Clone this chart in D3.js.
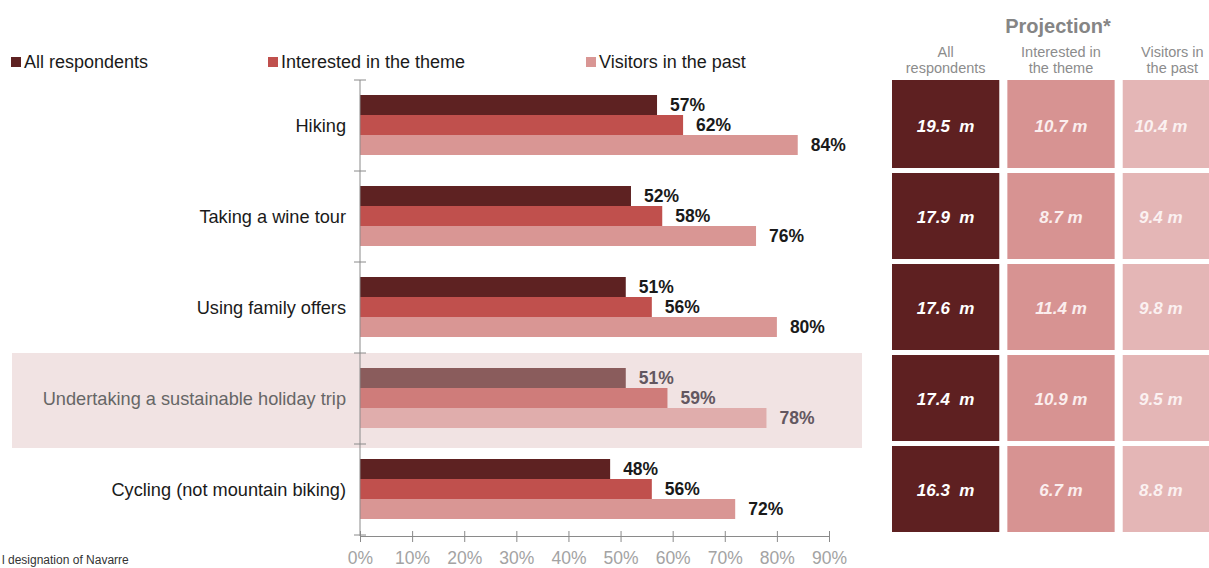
<!DOCTYPE html>
<html>
<head>
<meta charset="utf-8">
<script src="https://cdn.jsdelivr.net/npm/d3@7"></script>
<style>
  html, body { margin: 0; padding: 0; background: #ffffff; }
  svg { display: block; font-family: "Liberation Sans", Arial, sans-serif; }
</style>
</head>
<body>
<svg id="chart" width="1209" height="568"></svg>
<script>
// Activities and the share of each group interested in them
const categories = [
  "Hiking",
  "Taking a wine tour",
  "Using family offers",
  "Undertaking a sustainable holiday trip",
  "Cycling (not mountain biking)"
];
const series = ["All respondents", "Interested in the theme", "Visitors in the past"];
const allRespondents = [57, 52, 51, 51, 48];
const interestedInTheme = [62, 58, 56, 59, 56];
const visitorsInPast = [84, 76, 80, 78, 72];

// Projected number of people (millions) per activity and group
const projAll = [19.5, 17.9, 17.6, 17.4, 16.3];
const projInterested = [10.7, 8.7, 11.4, 10.9, 6.7];
const projVisitors = [10.4, 9.4, 9.8, 9.5, 8.8];

const tickValues = [0, 10, 20, 30, 40, 50, 60, 70, 80, 90];
const highlighted = "Undertaking a sustainable holiday trip";

const barColors = ["#5e2222", "#c0504d", "#d99694"];
const tileColors = ["#5e2021", "#d79392", "#e4b6b6"];
const tileTextColors = ["#ffffff", "#fbeeee", "#fbf1f1"];

const shares = [allRespondents, interestedInTheme, visitorsInPast];
const projections = [projAll, projInterested, projVisitors];

const svg = d3.select("#chart");
const W = 1209;

// Scales
const x = d3.scaleLinear().domain([0, 90]).range([360, 829]);
const y = d3.scaleBand().domain(categories).range([80, 535]);
const inner = d3.scaleBand().domain(series).range([15, 75]);

// Highlight band behind the sustainable-trip row
svg.append("rect")
  .attr("x", 12).attr("width", 850)
  .attr("y", y(highlighted)).attr("height", y.bandwidth() + 4)
  .attr("fill", "#f1e3e3");

// Bars
const groups = svg.selectAll("g.cat")
  .data(categories)
  .join("g")
  .attr("class", "cat")
  .attr("transform", d => `translate(0,${y(d)})`);

groups.each(function (cat, ci) {
  const g = d3.select(this);
  const hl = cat === highlighted;
  series.forEach((s, si) => {
    const v = shares[si][ci];
    g.append("rect")
      .attr("x", x(0))
      .attr("y", inner(s))
      .attr("width", x(v) - x(0))
      .attr("height", inner.bandwidth())
      .attr("fill", barColors[si])
      .attr("fill-opacity", hl ? 0.7 : 1);
    g.append("text")
      .attr("x", x(v) + 13)
      .attr("y", inner(s) + inner.bandwidth() / 2)
      .attr("dy", "0.36em")
      .attr("font-size", 17.5)
      .attr("font-weight", "bold")
      .attr("fill", hl ? "#635760" : "#1a1a1a")
      .text(v + "%");
  });
  // Category label
  g.append("text")
    .attr("x", 346)
    .attr("y", inner(series[1]) + inner.bandwidth() / 2)
    .attr("dy", "0.36em")
    .attr("text-anchor", "end")
    .attr("font-size", 18.2)
    .attr("fill", hl ? "#666666" : "#1a1a1a")
    .text(cat);
});

// Vertical category axis with boundary ticks
const axisColor = "#8a8a8a";
svg.append("line")
  .attr("x1", x(0)).attr("x2", x(0))
  .attr("y1", 80).attr("y2", 536)
  .attr("stroke", axisColor).attr("stroke-width", 1);
const bounds = categories.map(c => y(c)).concat([y.range()[1]]);
svg.selectAll("line.ytick")
  .data(bounds)
  .join("line")
  .attr("class", "ytick")
  .attr("x1", x(0) - 6).attr("x2", x(0) + 6)
  .attr("y1", d => d).attr("y2", d => d)
  .attr("stroke", axisColor).attr("stroke-width", 1);

// Horizontal percentage axis
const xAxis = d3.axisBottom(x)
  .tickValues(tickValues)
  .tickSize(0)
  .tickFormat(d => d + "%");
const ax = svg.append("g")
  .attr("transform", `translate(0,536)`)
  .call(xAxis);
ax.select(".domain").attr("stroke", axisColor);
ax.selectAll(".tick line").remove();
ax.selectAll(".tick").append("line")
  .attr("y1", -5).attr("y2", 6)
  .attr("stroke", axisColor);
ax.selectAll(".tick text")
  .attr("y", 16)
  .attr("dy", "0.71em")
  .attr("font-size", 17.5)
  .attr("font-family", "'Liberation Sans', Arial, sans-serif")
  .attr("fill", "#a3a3a3");

// Legend
const legendX = [11, 268, 586];
const legend = svg.selectAll("g.legend")
  .data(series)
  .join("g")
  .attr("class", "legend")
  .attr("transform", (d, i) => `translate(${legendX[i]},57)`);
legend.append("rect")
  .attr("width", 10).attr("height", 10)
  .attr("fill", (d, i) => barColors[i]);
legend.append("text")
  .attr("x", 13).attr("y", 11)
  .attr("font-size", 18)
  .attr("fill", "#1a1a1a")
  .text(d => d);

// Projection panel
const col = d3.scaleBand().domain(series).range([892, 1230]).paddingInner(0.07);
const headerLines = [["All", "respondents"], ["Interested in", "the theme"], ["Visitors in", "the past"]];

svg.append("text")
  .attr("x", 1058).attr("y", 33)
  .attr("text-anchor", "middle")
  .attr("font-size", 20)
  .attr("font-weight", "bold")
  .attr("fill", "#858585")
  .text("Projection*");

series.forEach((s, si) => {
  const cx = col(s) + col.bandwidth() / 2;
  const visibleCx = (col(s) + Math.min(col(s) + col.bandwidth(), W)) / 2;
  const hx = si === 2 ? cx - 4 : cx;
  headerLines[si].forEach((line, li) => {
    svg.append("text")
      .attr("x", hx).attr("y", 57 + li * 16)
      .attr("text-anchor", "middle")
      .attr("font-size", 14.5)
      .attr("fill", "#8c8c8c")
      .text(line);
  });
  categories.forEach((c, ci) => {
    svg.append("rect")
      .attr("x", col(s))
      .attr("y", y(c) + (ci === 0 ? 0 : 2))
      .attr("width", col.bandwidth())
      .attr("height", y.bandwidth() - (ci === 0 ? 3 : 5))
      .attr("fill", tileColors[si]);
    const v = projections[si][ci].toFixed(1);
    svg.append("text")
      .attr("x", si === 2 ? visibleCx - 5 : cx)
      .attr("y", y(c) + y.bandwidth() / 2)
      .attr("dy", "0.36em")
      .attr("text-anchor", "middle")
      .attr("font-size", 17)
      .attr("font-weight", "bold")
      .attr("font-style", "italic")
      .attr("fill", tileTextColors[si])
      .style("white-space", "pre")
      .text(si === 0 ? v + "  m" : v + " m");
  });
});

// Footnote along the bottom edge
svg.append("text")
  .attr("x", 2).attr("y", 564)
  .attr("font-size", 12)
  .attr("fill", "#333333")
  .text("l designation of Navarre");
</script>
</body>
</html>
